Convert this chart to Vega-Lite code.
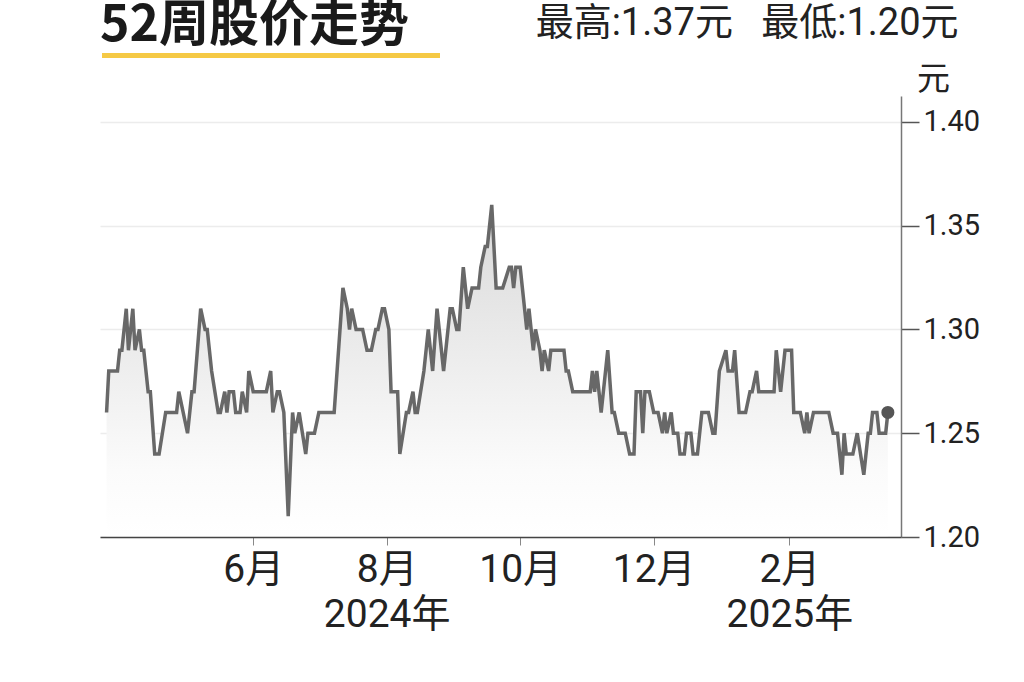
{
  "$schema": "https://vega.github.io/schema/vega-lite/v6.json",
  "width": 801,
  "height": 441,
  "autosize": {"type": "none"},
  "padding": {"left": 100, "top": 96, "right": 123, "bottom": 145},
  "background": "white",
  "title": {"text": "52周股价走势", "anchor": "start", "frame": "group", "fontSize": 50, "fontWeight": "bold", "font": "Noto Sans CJK SC", "color": "#1a1a1a", "offset": 0, "dy": 47},
  "config": {"view": {"stroke": null}},
  "datasets": {
    "prices": [
      {"date": "2024-03-26", "price": 1.26}, {"date": "2024-03-27", "price": 1.28}, {"date": "2024-03-31", "price": 1.28},
      {"date": "2024-04-01", "price": 1.29}, {"date": "2024-04-02", "price": 1.29}, {"date": "2024-04-04", "price": 1.31},
      {"date": "2024-04-05", "price": 1.29}, {"date": "2024-04-07", "price": 1.31}, {"date": "2024-04-08", "price": 1.29},
      {"date": "2024-04-10", "price": 1.30}, {"date": "2024-04-11", "price": 1.29}, {"date": "2024-04-12", "price": 1.29},
      {"date": "2024-04-14", "price": 1.27}, {"date": "2024-04-15", "price": 1.27}, {"date": "2024-04-17", "price": 1.24},
      {"date": "2024-04-19", "price": 1.24}, {"date": "2024-04-22", "price": 1.26}, {"date": "2024-04-27", "price": 1.26},
      {"date": "2024-04-28", "price": 1.27}, {"date": "2024-04-30", "price": 1.26}, {"date": "2024-05-02", "price": 1.25},
      {"date": "2024-05-04", "price": 1.27}, {"date": "2024-05-05", "price": 1.27}, {"date": "2024-05-08", "price": 1.31},
      {"date": "2024-05-10", "price": 1.30}, {"date": "2024-05-11", "price": 1.30}, {"date": "2024-05-13", "price": 1.28},
      {"date": "2024-05-16", "price": 1.26}, {"date": "2024-05-17", "price": 1.26}, {"date": "2024-05-19", "price": 1.27},
      {"date": "2024-05-20", "price": 1.26}, {"date": "2024-05-21", "price": 1.27}, {"date": "2024-05-23", "price": 1.27},
      {"date": "2024-05-24", "price": 1.26}, {"date": "2024-05-26", "price": 1.26}, {"date": "2024-05-27", "price": 1.27},
      {"date": "2024-05-29", "price": 1.26}, {"date": "2024-05-30", "price": 1.28}, {"date": "2024-06-01", "price": 1.27},
      {"date": "2024-06-07", "price": 1.27}, {"date": "2024-06-09", "price": 1.28}, {"date": "2024-06-10", "price": 1.26},
      {"date": "2024-06-12", "price": 1.27}, {"date": "2024-06-13", "price": 1.27}, {"date": "2024-06-15", "price": 1.26},
      {"date": "2024-06-17", "price": 1.21}, {"date": "2024-06-19", "price": 1.26}, {"date": "2024-06-20", "price": 1.25},
      {"date": "2024-06-22", "price": 1.26}, {"date": "2024-06-25", "price": 1.24}, {"date": "2024-06-26", "price": 1.25},
      {"date": "2024-06-29", "price": 1.25}, {"date": "2024-07-01", "price": 1.26}, {"date": "2024-07-08", "price": 1.26},
      {"date": "2024-07-12", "price": 1.32}, {"date": "2024-07-14", "price": 1.31}, {"date": "2024-07-15", "price": 1.30},
      {"date": "2024-07-16", "price": 1.31}, {"date": "2024-07-18", "price": 1.30}, {"date": "2024-07-21", "price": 1.30},
      {"date": "2024-07-23", "price": 1.29}, {"date": "2024-07-25", "price": 1.29}, {"date": "2024-07-27", "price": 1.30},
      {"date": "2024-07-28", "price": 1.30}, {"date": "2024-07-30", "price": 1.31}, {"date": "2024-07-31", "price": 1.31},
      {"date": "2024-08-02", "price": 1.30}, {"date": "2024-08-03", "price": 1.27}, {"date": "2024-08-06", "price": 1.27},
      {"date": "2024-08-07", "price": 1.24}, {"date": "2024-08-10", "price": 1.26}, {"date": "2024-08-11", "price": 1.26},
      {"date": "2024-08-13", "price": 1.27}, {"date": "2024-08-14", "price": 1.26}, {"date": "2024-08-15", "price": 1.26},
      {"date": "2024-08-18", "price": 1.28}, {"date": "2024-08-20", "price": 1.30}, {"date": "2024-08-22", "price": 1.28},
      {"date": "2024-08-24", "price": 1.31}, {"date": "2024-08-27", "price": 1.28}, {"date": "2024-08-30", "price": 1.31},
      {"date": "2024-08-31", "price": 1.31}, {"date": "2024-09-02", "price": 1.30}, {"date": "2024-09-03", "price": 1.30},
      {"date": "2024-09-05", "price": 1.33}, {"date": "2024-09-07", "price": 1.31}, {"date": "2024-09-09", "price": 1.32},
      {"date": "2024-09-12", "price": 1.32}, {"date": "2024-09-13", "price": 1.33}, {"date": "2024-09-15", "price": 1.34},
      {"date": "2024-09-16", "price": 1.34}, {"date": "2024-09-18", "price": 1.36}, {"date": "2024-09-20", "price": 1.32},
      {"date": "2024-09-23", "price": 1.32}, {"date": "2024-09-26", "price": 1.33}, {"date": "2024-09-27", "price": 1.33},
      {"date": "2024-09-28", "price": 1.32}, {"date": "2024-09-29", "price": 1.33}, {"date": "2024-10-01", "price": 1.33},
      {"date": "2024-10-02", "price": 1.32}, {"date": "2024-10-04", "price": 1.30}, {"date": "2024-10-05", "price": 1.31},
      {"date": "2024-10-07", "price": 1.29}, {"date": "2024-10-08", "price": 1.30}, {"date": "2024-10-10", "price": 1.29},
      {"date": "2024-10-11", "price": 1.28}, {"date": "2024-10-12", "price": 1.29}, {"date": "2024-10-14", "price": 1.28},
      {"date": "2024-10-15", "price": 1.29}, {"date": "2024-10-21", "price": 1.29}, {"date": "2024-10-22", "price": 1.28},
      {"date": "2024-10-23", "price": 1.28}, {"date": "2024-10-25", "price": 1.27}, {"date": "2024-11-02", "price": 1.27},
      {"date": "2024-11-03", "price": 1.28}, {"date": "2024-11-04", "price": 1.27}, {"date": "2024-11-05", "price": 1.28},
      {"date": "2024-11-07", "price": 1.26}, {"date": "2024-11-09", "price": 1.28}, {"date": "2024-11-10", "price": 1.29},
      {"date": "2024-11-12", "price": 1.26}, {"date": "2024-11-13", "price": 1.26}, {"date": "2024-11-15", "price": 1.25},
      {"date": "2024-11-18", "price": 1.25}, {"date": "2024-11-20", "price": 1.24}, {"date": "2024-11-22", "price": 1.24},
      {"date": "2024-11-23", "price": 1.27}, {"date": "2024-11-25", "price": 1.27}, {"date": "2024-11-26", "price": 1.25},
      {"date": "2024-11-27", "price": 1.27}, {"date": "2024-11-29", "price": 1.27}, {"date": "2024-12-01", "price": 1.26},
      {"date": "2024-12-03", "price": 1.26}, {"date": "2024-12-05", "price": 1.25}, {"date": "2024-12-06", "price": 1.26},
      {"date": "2024-12-07", "price": 1.25}, {"date": "2024-12-09", "price": 1.26}, {"date": "2024-12-10", "price": 1.25},
      {"date": "2024-12-12", "price": 1.25}, {"date": "2024-12-13", "price": 1.24}, {"date": "2024-12-15", "price": 1.24},
      {"date": "2024-12-16", "price": 1.25}, {"date": "2024-12-18", "price": 1.25}, {"date": "2024-12-19", "price": 1.24},
      {"date": "2024-12-21", "price": 1.24}, {"date": "2024-12-23", "price": 1.26}, {"date": "2024-12-26", "price": 1.26},
      {"date": "2024-12-28", "price": 1.25}, {"date": "2024-12-29", "price": 1.25}, {"date": "2024-12-31", "price": 1.28},
      {"date": "2025-01-03", "price": 1.29}, {"date": "2025-01-04", "price": 1.28}, {"date": "2025-01-06", "price": 1.28},
      {"date": "2025-01-07", "price": 1.29}, {"date": "2025-01-09", "price": 1.26}, {"date": "2025-01-12", "price": 1.26},
      {"date": "2025-01-14", "price": 1.27}, {"date": "2025-01-15", "price": 1.27}, {"date": "2025-01-17", "price": 1.28},
      {"date": "2025-01-18", "price": 1.27}, {"date": "2025-01-25", "price": 1.27}, {"date": "2025-01-26", "price": 1.29},
      {"date": "2025-01-28", "price": 1.27}, {"date": "2025-01-30", "price": 1.29}, {"date": "2025-02-02", "price": 1.29},
      {"date": "2025-02-03", "price": 1.26}, {"date": "2025-02-06", "price": 1.26}, {"date": "2025-02-08", "price": 1.25},
      {"date": "2025-02-09", "price": 1.26}, {"date": "2025-02-10", "price": 1.25}, {"date": "2025-02-12", "price": 1.26},
      {"date": "2025-02-19", "price": 1.26}, {"date": "2025-02-21", "price": 1.25}, {"date": "2025-02-23", "price": 1.25},
      {"date": "2025-02-25", "price": 1.23}, {"date": "2025-02-26", "price": 1.25}, {"date": "2025-02-27", "price": 1.24},
      {"date": "2025-03-02", "price": 1.24}, {"date": "2025-03-04", "price": 1.25}, {"date": "2025-03-07", "price": 1.23},
      {"date": "2025-03-09", "price": 1.25}, {"date": "2025-03-10", "price": 1.25}, {"date": "2025-03-11", "price": 1.26},
      {"date": "2025-03-13", "price": 1.26}, {"date": "2025-03-14", "price": 1.25}, {"date": "2025-03-17", "price": 1.25},
      {"date": "2025-03-18", "price": 1.26}
    ],
    "last": [{"date": "2025-03-18", "price": 1.26}]
  },
  "data": {"name": "prices"},
  "layer": [
    {
      "mark": {
        "type": "area",
        "fill": {"gradient": "linear", "x1": 0, "y1": 0, "x2": 0, "y2": 1,
          "stops": [{"offset": 0, "color": "#d9d9d9"}, {"offset": 0.8, "color": "#fbfbfb"}, {"offset": 1, "color": "#ffffff"}]}
      },
      "encoding": {
        "x": {
          "field": "date", "type": "temporal",
          "scale": {"type": "utc", "domain": [{"year": 2024, "month": 3, "date": 23, "utc": true}, {"year": 2025, "month": 3, "date": 24, "utc": true}]},
          "axis": {
            "orient": "bottom", "title": null, "grid": false,
            "values": [
              {"year": 2024, "month": 6, "date": 1, "utc": true},
              {"year": 2024, "month": 8, "date": 1, "utc": true},
              {"year": 2024, "month": 10, "date": 1, "utc": true},
              {"year": 2024, "month": 12, "date": 1, "utc": true},
              {"year": 2025, "month": 2, "date": 1, "utc": true}
            ],
            "labelExpr": "utcmonth(datum.value) == 7 ? ['8月', '2024年'] : utcmonth(datum.value) == 1 ? ['2月', '2025年'] : (utcmonth(datum.value) + 1) + '月'",
            "domainColor": "#444", "domainWidth": 1.5,
            "tickColor": "#888", "tickSize": 8, "tickWidth": 1,
            "labelFont": "Roboto, Noto Sans CJK SC", "labelFontSize": 39, "labelColor": "#222",
            "labelPadding": 5, "labelLineHeight": 45, "labelFlush": false, "labelOverlap": false,
            "zindex": 1
          }
        },
        "y": {
          "field": "price", "type": "quantitative",
          "scale": {"domain": [1.20, 1.4125], "zero": false, "nice": false},
          "axis": {
            "orient": "right", "values": [1.20, 1.25, 1.30, 1.35, 1.40], "format": ".2f",
            "title": "元", "titleAngle": 0, "titleX": 32, "titleY": -7, "titleAlign": "center", "titleBaseline": "alphabetic",
            "titleFont": "Noto Sans CJK SC", "titleFontSize": 33, "titleFontWeight": "normal", "titleColor": "#222",
            "domainColor": "#777", "domainWidth": 1.5,
            "tickColor": "#555", "tickSize": 18, "tickWidth": 1.5,
            "labelFont": "Roboto", "labelFontSize": 29, "labelColor": "#222", "labelPadding": 4,
            "grid": true, "gridColor": "#ececec", "gridWidth": 1.5
          }
        },
        "y2": {"datum": 1.20}
      }
    },
    {
      "mark": {"type": "line", "color": "#686868", "strokeWidth": 3.5},
      "encoding": {
        "x": {
          "field": "date", "type": "temporal",
          "axis": {
            "orient": "top", "labels": false, "ticks": false, "domain": false, "grid": false,
            "title": "最高:1.37元\u00a0\u00a0\u00a0最低:1.20元",
            "titleX": 858, "titleY": -62, "titleAlign": "right", "titleBaseline": "alphabetic", "titleAngle": 0,
            "titleFont": "Roboto, Noto Sans CJK SC", "titleFontSize": 38, "titleFontWeight": "normal", "titleColor": "#222"
          }
        },
        "y": {"field": "price", "type": "quantitative"}
      }
    },
    {
      "data": {"name": "last"},
      "mark": {"type": "point", "filled": true, "size": 170, "color": "#555555", "opacity": 1},
      "encoding": {
        "x": {"field": "date", "type": "temporal", "axis": null},
        "y": {"field": "price", "type": "quantitative"}
      }
    },
    {
      "mark": {"type": "rule", "color": "#f5c945", "strokeWidth": 5, "clip": false},
      "encoding": {
        "x": {"datum": {"year": 2024, "month": 3, "date": 24, "utc": true}, "type": "temporal", "axis": null},
        "x2": {"datum": {"year": 2024, "month": 8, "date": 25, "utc": true}},
        "y": {"datum": 1.432, "type": "quantitative"}
      }
    }
  ],
  "resolve": {"axis": {"x": "independent"}}
}
